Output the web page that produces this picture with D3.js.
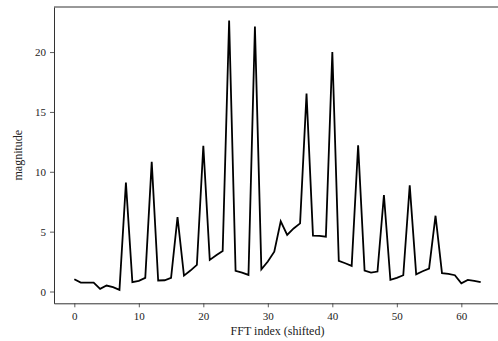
<!DOCTYPE html>
<html><head><meta charset="utf-8">
<script src="https://cdn.jsdelivr.net/npm/d3@7"></script>
<style>body{margin:0;background:#fff}svg{display:block}text{font-family:"Liberation Serif","DejaVu Serif",serif}</style>
</head><body><svg id="c" width="498" height="341"></svg>
<script>
const magnitude = [1.03,0.75,0.75,0.75,0.22,0.5,0.36,0.14,9.1,0.78,
  0.89,1.14,10.83,0.92,0.94,1.14,6.22,1.33,1.75,2.22,
  12.17,2.64,3.03,3.39,22.64,1.72,1.58,1.39,22.14,1.85,
  2.5,3.33,5.86,4.72,5.27,5.69,16.53,4.67,4.64,4.58,
  20.0,2.56,2.36,2.14,12.22,1.75,1.58,1.67,8.06,0.97,
  1.14,1.36,8.86,1.44,1.69,1.92,6.33,1.53,1.47,1.36,
  0.69,0.97,0.89,0.78];
const xTicks = [0,10,20,30,40,50,60];
const yTicks = [0,5,10,15,20];
const xLabel = "FFT index (shifted)";
const yLabel = "magnitude";

const svg = d3.select("#c");
const L = 54, R = 501, T = 7, B = 303.3;
const n = magnitude.length;
const xpad = (n-1)*0.05;
const x = d3.scaleLinear().domain([-xpad, n-1+xpad]).range([L, R]);
const ymin = d3.min(magnitude), ymax = d3.max(magnitude), yp = (ymax-ymin)*0.05;
const y = d3.scaleLinear().domain([ymin-yp, ymax+yp]).range([B, T]);

const line = d3.line().x((d,i)=>x(i)).y(d=>y(d));
svg.append("path").datum(magnitude).attr("d", line)
  .attr("fill","none").attr("stroke","#000").attr("stroke-width",1.8).attr("stroke-linejoin","miter");

const gx = svg.append("g").attr("transform",`translate(0,${B})`)
  .call(d3.axisBottom(x).tickValues(xTicks).tickSize(4).tickPadding(5).tickSizeOuter(0));
const gy = svg.append("g").attr("transform",`translate(${L},0)`)
  .call(d3.axisLeft(y).tickValues(yTicks).tickSize(4).tickPadding(4).tickSizeOuter(0));
[gx,gy].forEach(g=>{
  g.select(".domain").attr("stroke","#333").attr("stroke-width",1);
  g.selectAll(".tick line").attr("stroke","#333").attr("stroke-width",0.8);
  g.selectAll(".tick text").attr("fill","#222").style("font-size","11px").style("font-family",'"Liberation Serif",serif');
});
// top and right spines
svg.append("line").attr("x1",L).attr("x2",R).attr("y1",T).attr("y2",T).attr("stroke","#333").attr("stroke-width",1);
svg.append("line").attr("x1",R).attr("x2",R).attr("y1",T).attr("y2",B).attr("stroke","#333").attr("stroke-width",1);

svg.append("text").attr("x",(L+R)/2).attr("y",335).attr("text-anchor","middle")
  .style("font-size","12px").attr("fill","#222").text(xLabel);
svg.append("text").attr("transform",`translate(22,${(T+B)/2}) rotate(-90)`).attr("text-anchor","middle")
  .style("font-size","12px").attr("fill","#222").text(yLabel);
</script></body></html>
